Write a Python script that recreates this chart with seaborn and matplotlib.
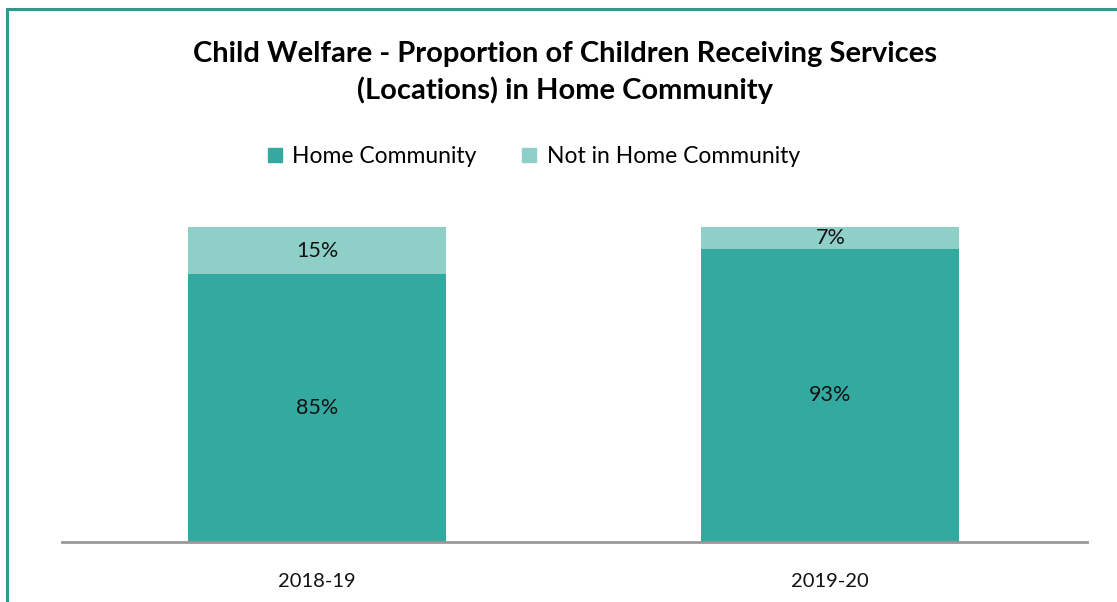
import matplotlib
matplotlib.use('Agg')
import matplotlib.pyplot as plt
import seaborn as sns
import pandas as pd
from matplotlib.patches import Rectangle, Patch

# Data
years = ['2018-19', '2019-20']
home = [85, 93]
not_home = [15, 7]

dark = '#34A9A0'
light = '#8ED0C8'

df = pd.DataFrame({'year': years, 'home': home, 'not_home': not_home})
df['total'] = df['home'] + df['not_home']

sns.set_theme(style='white')
plt.rcParams['font.family'] = ['Lato', 'DejaVu Sans']
plt.rcParams['text.color'] = '#000000'

fig = plt.figure(figsize=(11.17, 6.02), dpi=100)
ax = fig.add_axes([0.0555, 0.0997, 0.9176, 0.5233])

# stacked bars: full height in light, home share in dark on top
sns.barplot(data=df, x='year', y='total', color=light, width=0.503,
            saturation=1, linewidth=0, ax=ax)
sns.barplot(data=df, x='year', y='home', color=dark, width=0.503,
            saturation=1, linewidth=0, ax=ax)

for i, (h, n) in enumerate(zip(home, not_home)):
    ax.text(i, h / 2, f'{h}%', ha='center', va='center', fontsize=15.5, color='#111111')
    ax.text(i, h + n / 2, f'{n}%', ha='center', va='center', fontsize=15.5, color='#111111')

ax.set_xlim(-0.497, 1.5)
ax.set_ylim(0, 100)
ax.set_xlabel('')
ax.set_ylabel('')
ax.set_yticks([])
sns.despine(ax=ax, left=True, top=True, right=True)
ax.spines['bottom'].set_color('#999999')
ax.spines['bottom'].set_linewidth(2)
ax.tick_params(axis='x', length=0, pad=22, labelsize=14.5, colors='#111111')

fig.text(0.506, 0.88, 'Child Welfare - Proportion of Children Receiving Services\n(Locations) in Home Community',
         ha='center', va='center', fontsize=21, fontweight='bold', linespacing=1.42)

handles = [Patch(color=dark, label='Home Community'),
           Patch(color=light, label='Not in Home Community')]
fig.legend(handles=handles, loc='center', bbox_to_anchor=(0.478, 0.74), ncol=2,
           frameon=False, fontsize=16.5, handlelength=0.6, handleheight=0.6,
           columnspacing=2.0, handletextpad=0.45)

# outer border of the chart area
fig.patches.append(Rectangle((7 / 1117, -0.05), 1.1, 1 - 9 / 602 + 0.05, transform=fig.transFigure,
                             fill=False, edgecolor='#2E9A8E', linewidth=2.2))

fig.savefig('out.png', dpi=100)
